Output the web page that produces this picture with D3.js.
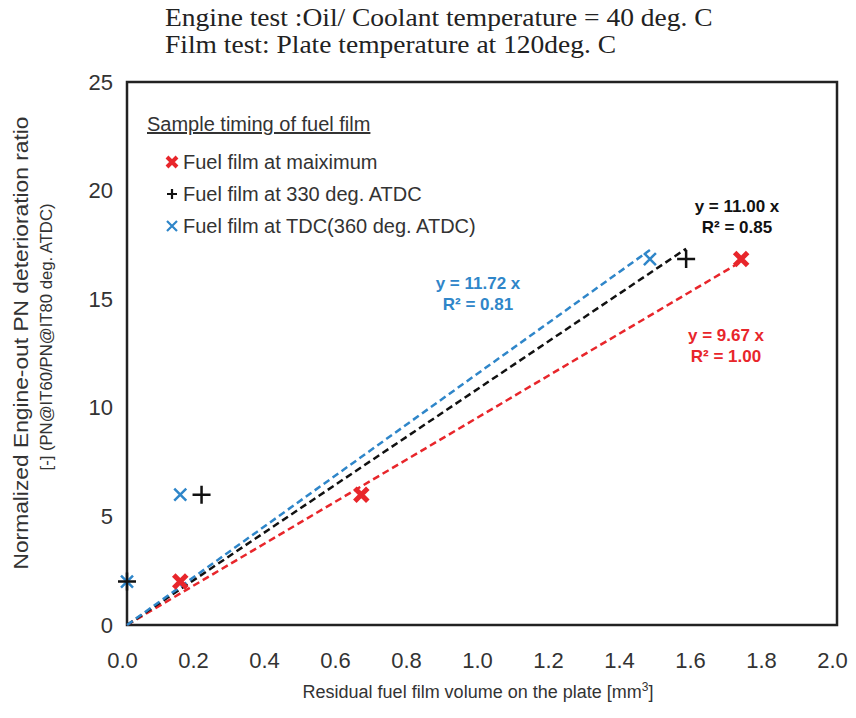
<!DOCTYPE html>
<html>
<head>
<meta charset="utf-8">
<script src="https://cdn.jsdelivr.net/npm/d3@7"></script>
<style>
  body { margin: 0; background: #fff; }
  text { font-family: Arial, "Liberation Sans", sans-serif; }
</style>
</head>
<body>
<div id="chart"></div>
<script>
// data
var titleLines = ["Engine test :Oil/ Coolant temperature = 40 deg. C",
                  "Film test: Plate temperature at 120deg. C"];
var seriesNames = ["Fuel film at maiximum", "Fuel film at 330 deg. ATDC", "Fuel film at TDC(360 deg. ATDC)"];
var seriesKeys = ["max", "330", "tdc"];
var xMax = [0.15, 0.66, 1.73];
var yMax = [2.0, 6.0, 16.85];
var x330 = [0.0, 0.21, 1.575];
var y330 = [2.0, 6.0, 16.85];
var xTdc = [0.0, 0.15, 1.473];
var yTdc = [2.0, 6.0, 16.85];
var slopes = [9.67, 11.00, 11.72];
var r2 = ["1.00", "0.85", "0.81"];
var xTicks = [0, 0.2, 0.4, 0.6, 0.8, 1.0, 1.2, 1.4, 1.6, 1.8, 2.0];
var yTicks = [0, 5, 10, 15, 20, 25];

var colors = {max: "#e8262b", "330": "#111111", tdc: "#2f86c9"};

var W = 856, H = 718;
var svg = d3.select("#chart").append("svg")
    .attr("width", W).attr("height", H);

var x = d3.scaleLinear().domain([0, 2]).range([127, 837]);
var y = d3.scaleLinear().domain([0, 25]).range([625, 82]);

// title (serif, a bit stretched like the source)
svg.selectAll(".title")
  .data(titleLines)
  .enter().append("text")
    .attr("transform", function(d, i) { return "translate(165," + (26 + i * 27) + ") scale(1.1,1)"; })
    .style("font-family", "'Liberation Serif', 'Times New Roman', serif")
    .style("font-size", "25px")
    .style("fill", "#222")
    .text(function(d) { return d; });

// frame
svg.append("rect")
  .attr("x", x(0)).attr("y", y(25))
  .attr("width", x(2) - x(0)).attr("height", y(0) - y(25))
  .attr("fill", "none").attr("stroke", "#222").attr("stroke-width", 2.5);

// axes
var xAxis = svg.append("g")
  .attr("transform", "translate(0," + y(0) + ")")
  .call(d3.axisBottom(x).tickValues(xTicks).tickSize(0).tickFormat(d3.format(".1f")));
xAxis.select(".domain").remove();
xAxis.selectAll("text")
  .attr("y", 43).attr("dy", 0).attr("dx", -5)
  .style("font-size", "22px").style("fill", "#333");

var yAxis = svg.append("g")
  .attr("transform", "translate(" + x(0) + ",0)")
  .call(d3.axisLeft(y).tickValues(yTicks).tickSize(0));
yAxis.select(".domain").remove();
yAxis.selectAll("text")
  .attr("x", -14)
  .style("font-size", "22px").style("fill", "#333");

// axis titles
svg.append("text")
  .attr("x", 478).attr("y", 698)
  .attr("text-anchor", "middle")
  .style("font-size", "18px").style("fill", "#333")
  .text("Residual fuel film volume on the plate [mm")
  .append("tspan").attr("dy", -7).style("font-size", "12px").text("3")
  .select(function() { return this.parentNode; })
  .append("tspan").attr("dy", 7).text("]");

svg.append("text")
  .attr("transform", "translate(28,343) rotate(-90)")
  .attr("text-anchor", "middle")
  .attr("textLength", 453).attr("lengthAdjust", "spacingAndGlyphs")
  .style("font-size", "19.5px").style("fill", "#333")
  .text("Normalized Engine-out PN deterioration ratio");
svg.append("text")
  .attr("transform", "translate(52,337) rotate(-90)")
  .attr("text-anchor", "middle")
  .attr("textLength", 267).attr("lengthAdjust", "spacingAndGlyphs")
  .style("font-size", "17px").style("fill", "#333")
  .text("[-]  (PN@IT60/PN@IT80 deg. ATDC)");

// trend lines (through origin, to the series' last x)
var lastX = [d3.max(xMax), d3.max(x330), d3.max(xTdc)];
seriesKeys.forEach(function(k, i) {
  var line = d3.line().x(function(d) { return x(d); }).y(function(d) { return y(d * slopes[i]); });
  svg.append("path")
    .datum([0, lastX[i]])
    .attr("d", line)
    .attr("fill", "none")
    .attr("stroke", colors[k])
    .attr("stroke-width", 2.5)
    .attr("stroke-dasharray", "7,4");
});

// marker shapes
function markX(s) { return "M" + (-s) + "," + (-s) + "L" + s + "," + s + "M" + (-s) + "," + s + "L" + s + "," + (-s); }
function markPlus(s) { return "M" + (-s) + ",0L" + s + ",0M0," + (-s) + "L0," + s; }
var markers = {
  max: {d: markX(6.5), w: 5},
  "330": {d: markPlus(9), w: 2.5},
  tdc: {d: markX(6), w: 2.5}
};

var pts = [
  {k: "tdc", xs: xTdc, ys: yTdc},
  {k: "max", xs: xMax, ys: yMax},
  {k: "330", xs: x330, ys: y330}
];
pts.forEach(function(s) {
  svg.selectAll(".pt-" + s.k)
    .data(s.xs.map(function(v, i) { return [v, s.ys[i]]; }))
    .enter().append("path")
      .attr("transform", function(d) { return "translate(" + x(d[0]) + "," + y(d[1]) + ")"; })
      .attr("d", markers[s.k].d)
      .attr("fill", "none")
      .attr("stroke", colors[s.k])
      .attr("stroke-width", markers[s.k].w);
});

// legend
svg.append("text")
  .attr("x", 147).attr("y", 131)
  .style("font-size", "20px").style("fill", "#333")
  .style("text-decoration", "underline")
  .text("Sample timing of fuel film");

var legMark = {
  max: {d: markX(5), w: 4},
  "330": {d: markPlus(5), w: 2.2},
  tdc: {d: markX(5), w: 2.2}
};
seriesKeys.forEach(function(k, i) {
  var ly = 162 + i * 32;
  svg.append("path")
    .attr("transform", "translate(" + 172 + "," + ly + ")")
    .attr("d", legMark[k].d)
    .attr("fill", "none").attr("stroke", colors[k]).attr("stroke-width", legMark[k].w);
  svg.append("text")
    .attr("x", 183).attr("y", ly + 7)
    .style("font-size", "20px").style("fill", "#333")
    .text(seriesNames[i]);
});

// trend line equations
var eqPos = [[726, 341], [737, 212], [478, 289]];
seriesKeys.forEach(function(k, i) {
  var g = svg.append("g").attr("transform", "translate(" + eqPos[i][0] + "," + eqPos[i][1] + ")");
  g.append("text")
    .attr("text-anchor", "middle")
    .style("font-family", "'Liberation Sans Narrow', 'Arial Narrow', Arial, sans-serif")
    .style("font-weight", "bold").style("font-size", "17px")
    .style("fill", colors[k])
    .text("y = " + slopes[i].toFixed(2) + " x");
  g.append("text")
    .attr("y", 21)
    .attr("text-anchor", "middle")
    .style("font-family", "'Liberation Sans Narrow', 'Arial Narrow', Arial, sans-serif")
    .style("font-weight", "bold").style("font-size", "17px")
    .style("fill", colors[k])
    .text("R² = " + r2[i]);
});
</script>
</body>
</html>
